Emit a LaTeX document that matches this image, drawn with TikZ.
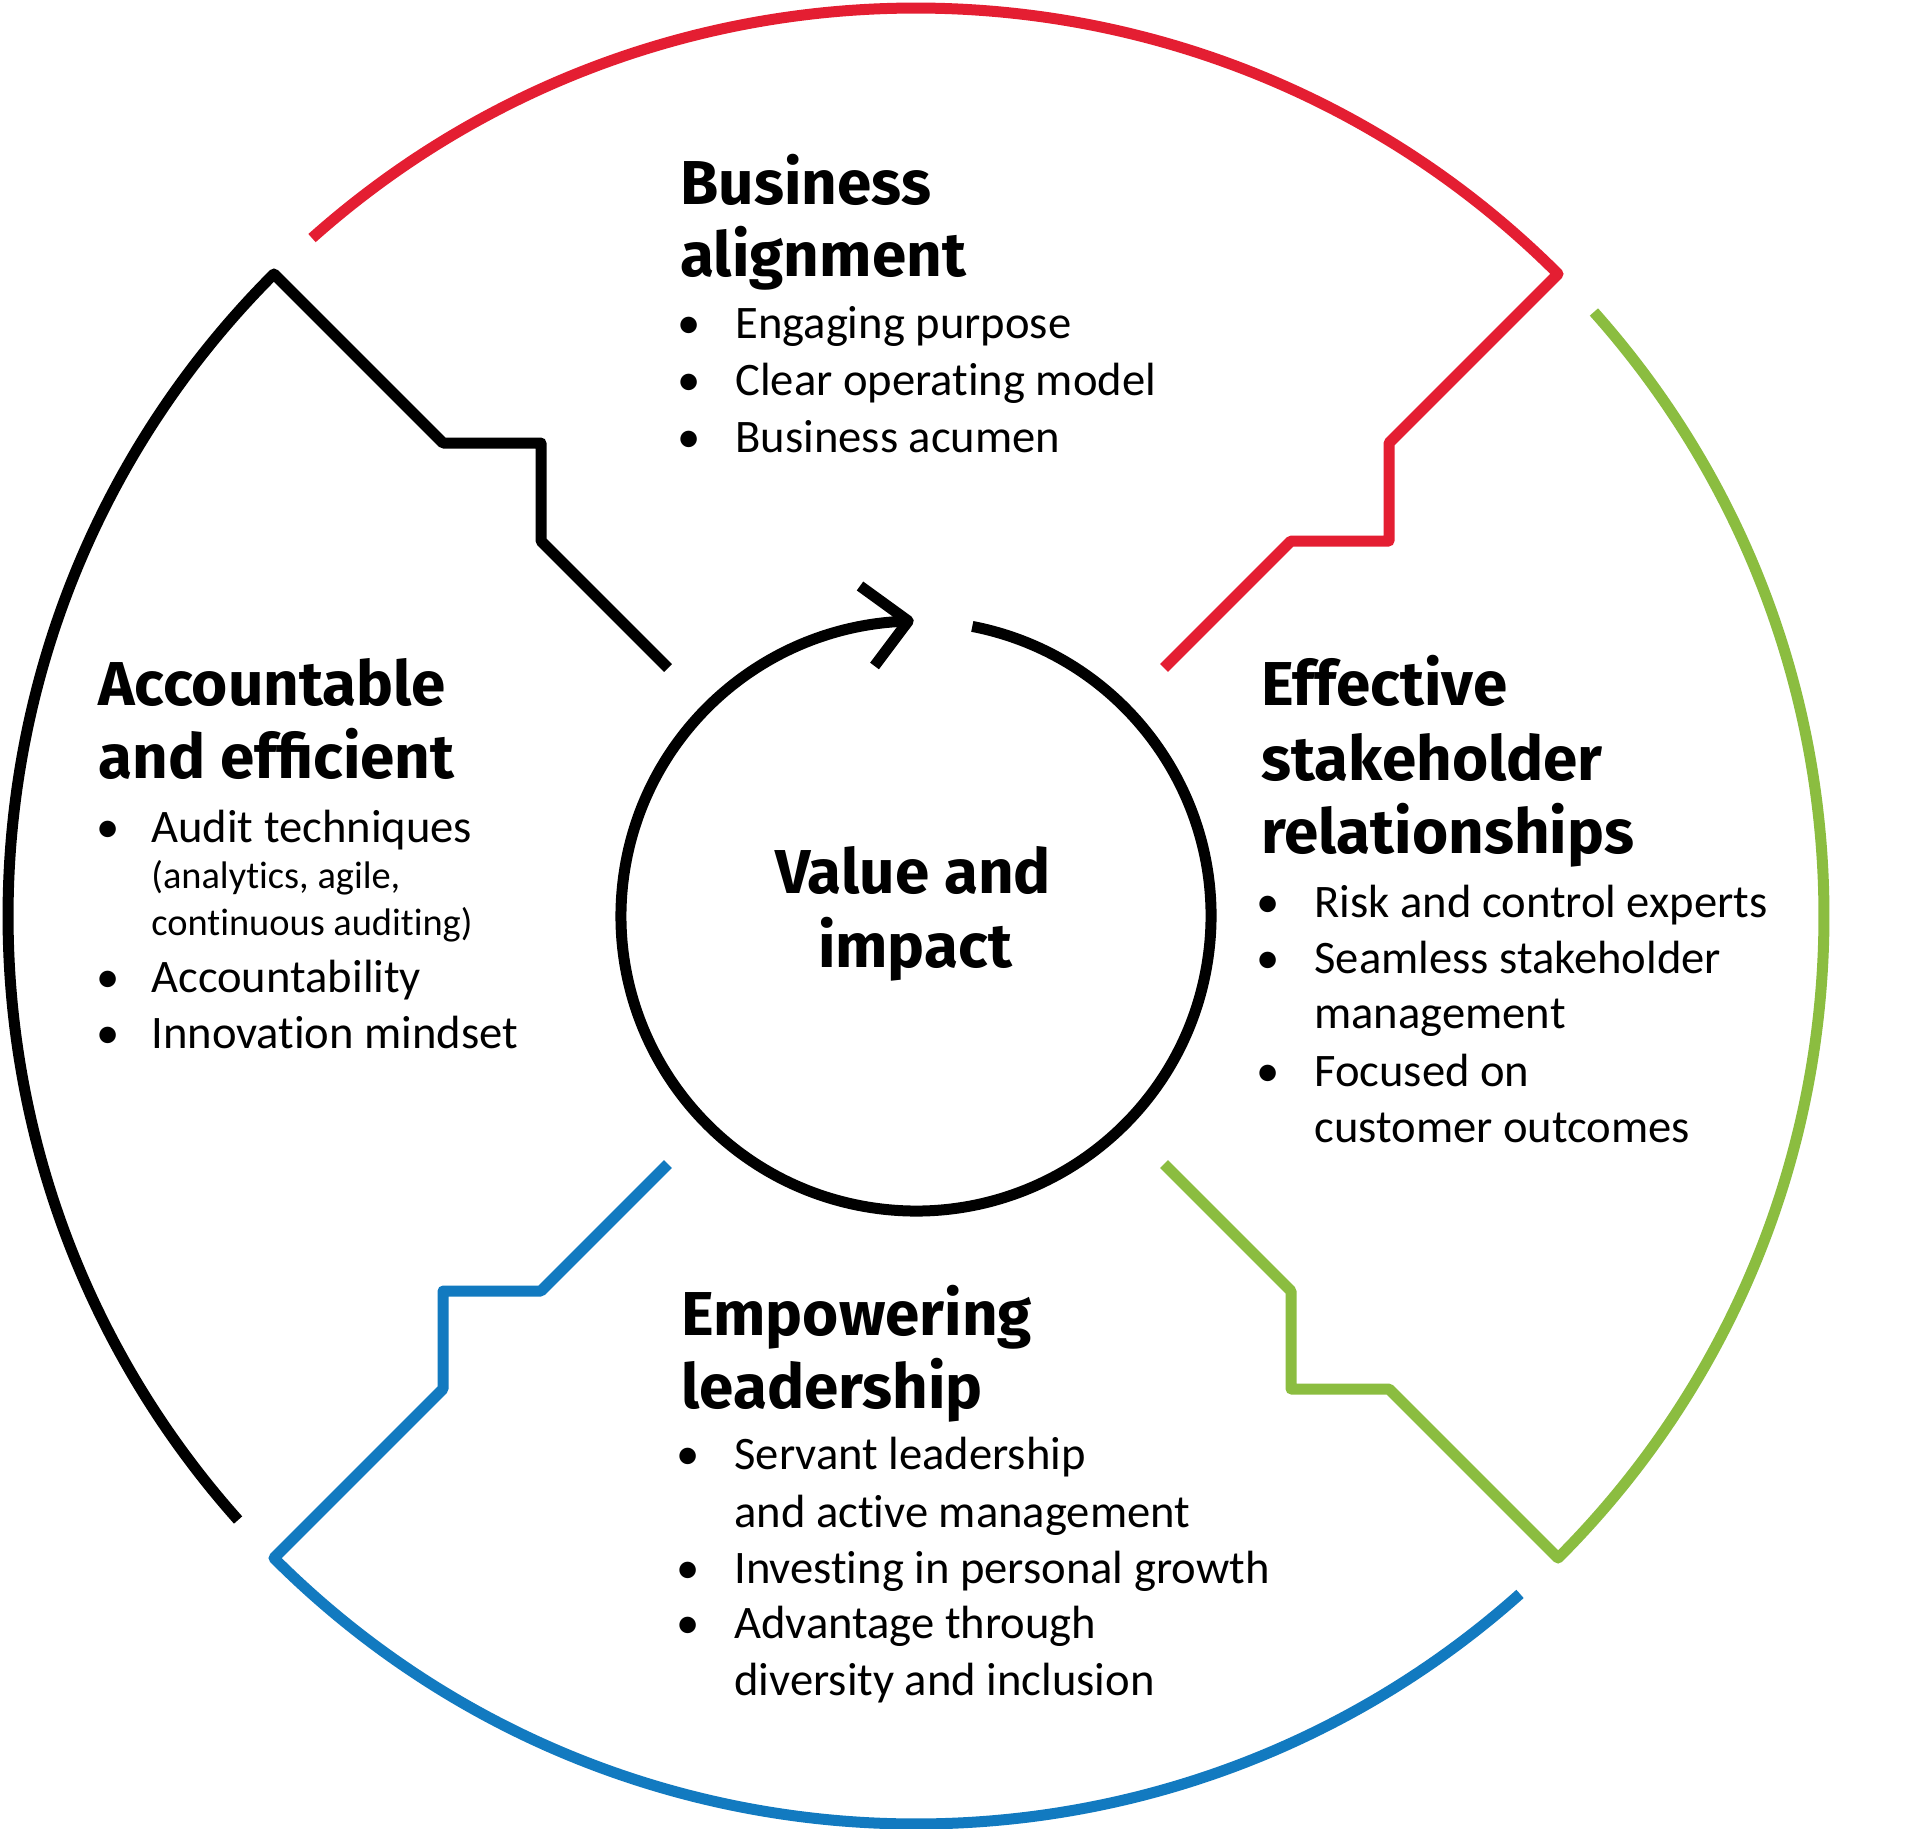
\documentclass[tikz,border=0pt]{standalone}
\usepackage{fontspec}
\setmainfont{Carlito}[Ligatures=NoCommon]
\newfontfamily\headfont{Fira Sans}
\definecolor{cred}{RGB}{228,30,50}
\definecolor{cgreen}{RGB}{139,189,64}
\definecolor{cblue}{RGB}{18,122,192}
\tikzset{
  ring/.style={line width=5.5pt, line join=round, line cap=butt},
  head/.style={anchor=base west, inner sep=0pt, font=\headfont\bfseries\fontsize{31}{37}\selectfont},
  midhead/.style={anchor=base, inner sep=0pt, font=\headfont\bfseries\fontsize{31}{37}\selectfont},
  body/.style={anchor=base west, inner sep=0pt, font=\fontsize{23.3}{28}\selectfont},
  subbody/.style={anchor=base west, inner sep=0pt, font=\fontsize{19.2}{23.5}\selectfont},
  bul/.style={anchor=base, inner sep=0pt, font=\fontsize{23.3}{28}\selectfont},
}
\begin{document}
\begin{tikzpicture}[x=0.5pt,y=-0.5pt]
\useasboundingbox (0,0) rectangle (1920,1829);
\fill[white] (0,0) rectangle (1920,1829);

\begin{scope}[shift={(916,916)}, x=0.5pt, y=0.5pt]
  % outer segments
  \draw[ring, cred] (131.7:908) arc[start angle=131.7, end angle=45, radius=454pt]
     -- (473,473) -- (473,375) -- (375,375) -- (248,248);
  \draw[ring, cgreen] (41.7:908) arc[start angle=41.7, end angle=-45, radius=454pt]
     -- (473,-473) -- (375,-473) -- (375,-375) -- (248,-248);
  \draw[ring, cblue] (-48.3:908) arc[start angle=-48.3, end angle=-135, radius=454pt]
     -- (-473,-473) -- (-473,-375) -- (-375,-375) -- (-248,-248);
  \draw[ring, black] (-138.3:908) arc[start angle=-138.3, end angle=-225, radius=454pt]
     -- (-473,473) -- (-375,473) -- (-375,375) -- (-248,248);
  % inner circle with arrow
  \draw[ring, black] (79:295) arc[start angle=79, end angle=-268.5, radius=147.5pt];
  \draw[ring, black] (-56,330) -- (-7.7,295) -- (-41.5,250);
\end{scope}

% centre
\node[midhead] (v1) at (913,893) {Value and};
\node[midhead] (v2) at (915,967) {impact};

% top block
\node[head] (ba1) at (680,205) {Business};
\node[head] (ba2) at (680,277) {alignment};
\node[bul] (bab1) at (689,339) {•};
\node[body] (bat1) at (735,339) {Engaging purpose};
\node[bul] (bab2) at (689,395) {•};
\node[body] (bat2) at (735,395) {Clear operating model};
\node[bul] (bab3) at (689,452) {•};
\node[body] (bat3) at (735,452) {Business acumen};

% left block
\node[head] (ae1) at (98,705) {Accountable};
\node[head] (ae2) at (98,778) {and efficient};
\node[bul] (aeb1) at (108,842) {•};
\node[body] (aet1) at (151,842) {Audit techniques};
\node[subbody] (aes1) at (151,888) {(analytics, agile,};
\node[subbody] (aes2) at (151,935) {continuous auditing)};
\node[bul] (aeb2) at (108,992) {•};
\node[body] (aet2) at (151,992) {Accountability};
\node[bul] (aeb3) at (108,1048) {•};
\node[body] (aet3) at (151,1048) {Innovation mindset};

% right block
\node[head] (es1) at (1261,705) {Effective};
\node[head] (es2) at (1261,780) {stakeholder};
\node[head] (es3) at (1261,853) {relationships};
\node[bul] (esb1) at (1268,917) {•};
\node[body] (est1) at (1314,917) {Risk and control experts};
\node[bul] (esb2) at (1268,973) {•};
\node[body] (est2) at (1314,973) {Seamless stakeholder};
\node[body] (est3) at (1314,1028) {management};
\node[bul] (esb3) at (1268,1086) {•};
\node[body] (est4) at (1314,1086) {Focused on};
\node[body] (est5) at (1314,1142) {customer outcomes};

% bottom block
\node[head] (el1) at (681,1335) {Empowering};
\node[head] (el2) at (681,1408) {leadership};
\node[bul] (elb1) at (688,1469) {•};
\node[body] (elt1) at (734,1469) {Servant leadership};
\node[body] (elt2) at (734,1527) {and active management};
\node[bul] (elb2) at (688,1583) {•};
\node[body] (elt3) at (734,1583) {Investing in personal growth};
\node[bul] (elb3) at (688,1638) {•};
\node[body] (elt4) at (734,1638) {Advantage through};
\node[body] (elt5) at (734,1695) {diversity and inclusion};
\end{tikzpicture}
\end{document}
